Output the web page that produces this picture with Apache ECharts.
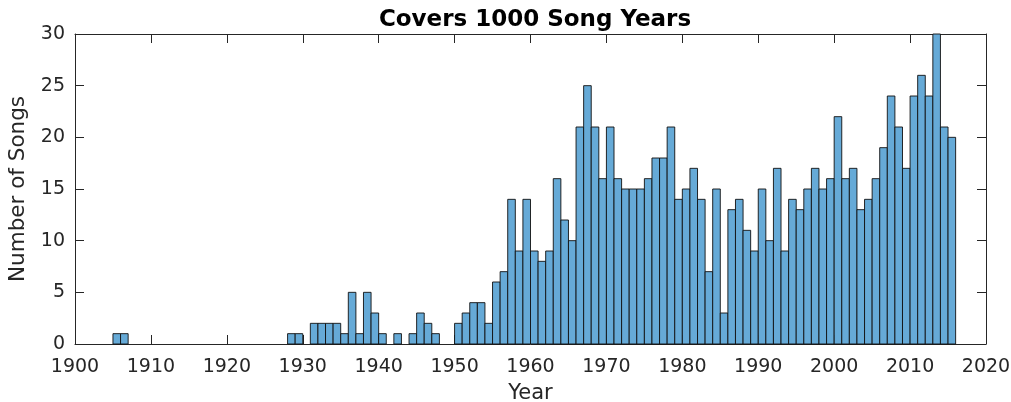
<!DOCTYPE html>
<html>
<head>
<meta charset="utf-8">
<script src="https://cdn.jsdelivr.net/npm/echarts@6/dist/echarts.min.js"></script>
<style>html,body{margin:0;padding:0;background:#fff;}#c{width:1011px;height:402px;}</style>
</head>
<body>
<div id="c"></div>
<script>
// Histogram bins: one bin per year, bin i covers [firstYear + i, firstYear + i + 1)
const firstYear = 1905;
// Per-year song counts 1905..2015
const yearCounts = [
  1, 1,                                  // 1905-1906
  0, 0, 0, 0, 0, 0, 0, 0, 0, 0, 0, 0, 0, 0, 0, 0, 0, 0, 0, 0, 0, // 1907-1927
  1, 1, 0,                               // 1928-1930
  2, 2, 2, 2, 1, 5, 1, 5, 3, 1,          // 1931-1940
  0, 1, 0, 1, 3, 2, 1, 0, 0, 2,          // 1941-1950
  3, 4, 4, 2, 6, 7, 14, 9, 14, 9,        // 1951-1960
  8, 9, 16, 12, 10, 21, 25, 21, 16, 21,  // 1961-1970
  16, 15, 15, 15, 16, 18, 18, 21, 14, 15,// 1971-1980
  17, 14, 7, 15, 3, 13, 14, 11, 9, 15,   // 1981-1990
  10, 17, 9, 14, 13, 15, 17, 15, 16, 22, // 1991-2000
  16, 17, 13, 14, 16, 19, 24, 21, 17, 24,// 2001-2010
  26, 24, 30, 21, 20                     // 2011-2015
];
const xTicks = { min: 1900, max: 2020, step: 10 };
const yTicks = { min: 0, max: 30, step: 5 };

const data = yearCounts.map((v, i) => [firstYear + i, v]).filter(d => d[1] > 0);

const textColor = '#262626';
const font = 'DejaVu Sans';

const chart = echarts.init(document.getElementById('c'), null, { renderer: 'canvas' });

function axisCommon() {
  return {
    axisLine: { show: true, onZero: false, lineStyle: { color: textColor, width: 1 } },
    axisTick: { show: true, inside: true, length: 9, lineStyle: { color: textColor, width: 1 } },
    splitLine: { show: false }
  };
}

chart.setOption({
  animation: false,
  backgroundColor: '#fff',
  title: {
    text: 'Covers 1000 Song Years',
    left: 530, top: 4, textAlign: 'center',
    textStyle: { fontFamily: font, fontWeight: 'bold', fontSize: 23, color: '#000' }
  },
  grid: { left: 75, right: 25, top: 34, bottom: 58, containLabel: false, outerBoundsMode: 'none' },
  xAxis: [
    Object.assign(axisCommon(), {
      type: 'value', position: 'bottom',
      min: xTicks.min, max: xTicks.max, interval: xTicks.step,
      name: 'Year', nameLocation: 'middle', nameGap: 39,
      nameTextStyle: { fontFamily: font, fontSize: 21, color: textColor },
      axisLabel: { fontFamily: font, fontSize: 19, color: textColor, margin: 14,
                   formatter: v => String(v) }
    }),
    Object.assign(axisCommon(), {
      type: 'value', position: 'top',
      min: xTicks.min, max: xTicks.max, interval: xTicks.step,
      axisLabel: { show: false }
    })
  ],
  yAxis: [
    Object.assign(axisCommon(), {
      type: 'value', position: 'left',
      min: yTicks.min, max: yTicks.max, interval: yTicks.step,
      name: 'Number of Songs', nameLocation: 'middle', nameGap: 46,
      nameTextStyle: { fontFamily: font, fontSize: 21.5, color: textColor },
      axisLabel: { fontFamily: font, fontSize: 19, color: textColor, margin: 10 }
    }),
    Object.assign(axisCommon(), {
      type: 'value', position: 'right',
      min: yTicks.min, max: yTicks.max, interval: yTicks.step,
      axisLabel: { show: false }
    })
  ],
  series: [{
    type: 'custom',
    xAxisIndex: 0, yAxisIndex: 0,
    data: data,
    renderItem: function (params, api) {
      const x = api.value(0), v = api.value(1);
      const p0 = api.coord([x, 0]);
      const p1 = api.coord([x + 1, v]);
      return {
        type: 'rect',
        shape: { x: p0[0], y: p1[1], width: p1[0] - p0[0], height: p0[1] - p1[1] },
        style: { fill: 'rgb(102,170,215)', stroke: '#111', lineWidth: 0.9 }
      };
    }
  }]
});
</script>
</body>
</html>
